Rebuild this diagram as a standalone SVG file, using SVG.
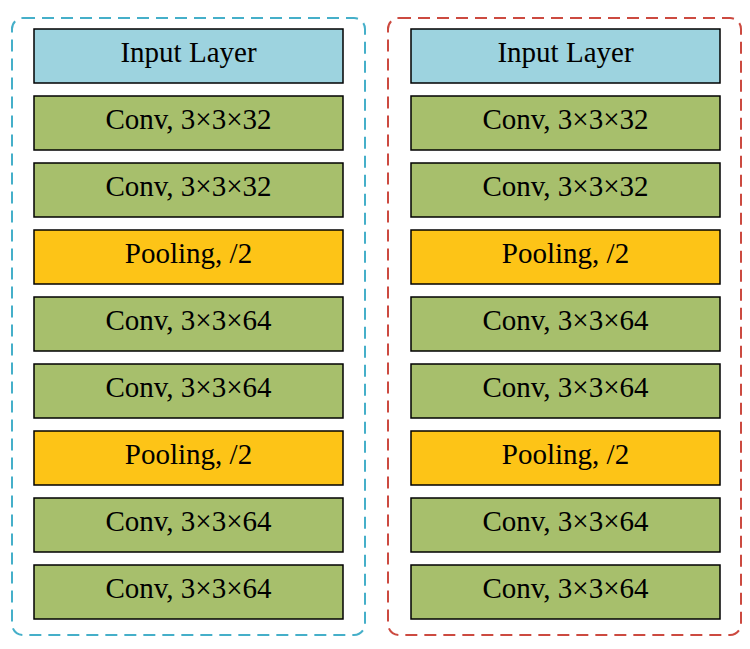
<svg xmlns="http://www.w3.org/2000/svg" width="750" height="649" viewBox="0 0 750 649">
<style>
.box{stroke:#000;stroke-width:1.5}
.in{fill:#9dd3df}
.cv{fill:#a7bf6c}
.pl{fill:#fdc417}
.t{font-family:"Liberation Serif","Times New Roman",serif;font-size:29px;text-anchor:middle;fill:#000}
.frame{fill:none;stroke-width:2;stroke-dasharray:12 7}
</style>
<g id="containers">
<rect id="left-frame" class="frame" x="12" y="18" width="353" height="617" rx="11" stroke="#45afc9"/>
<rect id="right-frame" class="frame" x="388" y="18" width="353" height="617" rx="11" stroke="#cc4a40"/>
</g>
<g id="connectors"></g>
<g id="L1"><rect class="box in" x="34" y="29" width="309" height="54"/><text class="t" x="188.5" y="62">Input Layer</text></g>
<g id="L2"><rect class="box cv" x="34" y="96" width="309" height="54"/><text class="t" x="188.5" y="129">Conv, 3×3×32</text></g>
<g id="L3"><rect class="box cv" x="34" y="163" width="309" height="54"/><text class="t" x="188.5" y="196">Conv, 3×3×32</text></g>
<g id="L4"><rect class="box pl" x="34" y="230" width="309" height="54"/><text class="t" x="188.5" y="263">Pooling, /2</text></g>
<g id="L5"><rect class="box cv" x="34" y="297" width="309" height="54"/><text class="t" x="188.5" y="330">Conv, 3×3×64</text></g>
<g id="L6"><rect class="box cv" x="34" y="364" width="309" height="54"/><text class="t" x="188.5" y="397">Conv, 3×3×64</text></g>
<g id="L7"><rect class="box pl" x="34" y="431" width="309" height="54"/><text class="t" x="188.5" y="464">Pooling, /2</text></g>
<g id="L8"><rect class="box cv" x="34" y="498" width="309" height="54"/><text class="t" x="188.5" y="531">Conv, 3×3×64</text></g>
<g id="L9"><rect class="box cv" x="34" y="565" width="309" height="54"/><text class="t" x="188.5" y="598">Conv, 3×3×64</text></g>
<g id="R1"><rect class="box in" x="411" y="29" width="309" height="54"/><text class="t" x="565.5" y="62">Input Layer</text></g>
<g id="R2"><rect class="box cv" x="411" y="96" width="309" height="54"/><text class="t" x="565.5" y="129">Conv, 3×3×32</text></g>
<g id="R3"><rect class="box cv" x="411" y="163" width="309" height="54"/><text class="t" x="565.5" y="196">Conv, 3×3×32</text></g>
<g id="R4"><rect class="box pl" x="411" y="230" width="309" height="54"/><text class="t" x="565.5" y="263">Pooling, /2</text></g>
<g id="R5"><rect class="box cv" x="411" y="297" width="309" height="54"/><text class="t" x="565.5" y="330">Conv, 3×3×64</text></g>
<g id="R6"><rect class="box cv" x="411" y="364" width="309" height="54"/><text class="t" x="565.5" y="397">Conv, 3×3×64</text></g>
<g id="R7"><rect class="box pl" x="411" y="431" width="309" height="54"/><text class="t" x="565.5" y="464">Pooling, /2</text></g>
<g id="R8"><rect class="box cv" x="411" y="498" width="309" height="54"/><text class="t" x="565.5" y="531">Conv, 3×3×64</text></g>
<g id="R9"><rect class="box cv" x="411" y="565" width="309" height="54"/><text class="t" x="565.5" y="598">Conv, 3×3×64</text></g>
</svg>
